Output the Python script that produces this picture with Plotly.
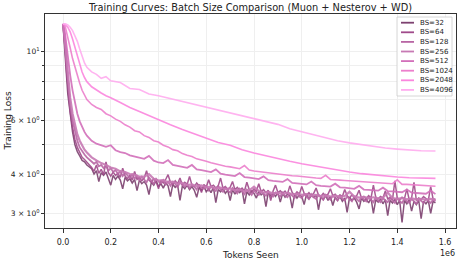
import plotly.graph_objects as go

# ---------------- data ----------------
BATCH_SIZES = [32, 64, 128, 256, 512, 1024, 2048, 4096]
COLORS = ["#7d4170", "#a04a8a", "#b866a4", "#c77ab4", "#d26fba", "#ec7fcc", "#fb86de", "#ffacef"]

# tokens seen (millions)
TOKENS_FINE = [0, 0.005, 0.01, 0.015, 0.02, 0.03, 0.04, 0.05, 0.06, 0.07, 0.08, 0.09, 0.10]
TOKENS = TOKENS_FINE + [round(0.12 + 0.02 * k, 2) for k in range(73)]
TOKENS_DENSE = TOKENS_FINE + [round(0.12 + 0.01 * k, 2) for k in range(145)]
TOKENS_SMOOTH = [0, 0.01, 0.02, 0.03, 0.04, 0.05, 0.06, 0.07, 0.08, 0.09, 0.10, 0.12, 0.14, 0.16,
                 0.18, 0.20, 0.24, 0.28, 0.32, 0.36, 0.40, 0.45, 0.50, 0.55, 0.60, 0.65, 0.70,
                 0.75, 0.80, 0.85, 0.90, 0.95, 1.00, 1.05, 1.10, 1.15, 1.20, 1.25, 1.30, 1.35,
                 1.40, 1.45, 1.50, 1.56]

LOSS_BS32 = [12.3, 11.0, 9.6, 8.3, 7.3, 6.2, 5.5, 5.0, 4.75, 4.6, 4.45, 4.4, 4.3,
             4.18, 4.02, 4.12, 3.80, 4.06, 3.98, 4.08, 3.90, 3.70, 3.98,
             3.86, 3.96, 3.84, 3.60, 3.92, 3.82, 3.88, 3.76, 3.86, 3.55,
             3.84, 3.74, 3.80, 3.70, 3.45, 3.78, 3.70, 3.82, 3.66, 3.74,
             3.62, 3.76, 3.68, 3.40, 3.72, 3.64, 3.70, 3.30, 3.68, 3.60,
             3.70, 3.58, 3.66, 3.56, 3.38, 3.64, 3.55, 3.68, 3.52, 3.60,
             3.50, 3.64, 3.25, 3.58, 3.52, 3.62, 3.48, 3.56, 3.30, 3.58,
             3.46, 3.56, 3.50, 3.58, 3.22, 3.52, 3.44, 3.54, 3.48, 3.36,
             3.54, 3.44, 3.50, 3.15, 3.52, 3.42, 3.48, 3.40, 3.50, 3.26,
             3.48, 3.38, 3.46, 3.42, 3.12, 3.46, 3.36, 3.44, 3.40, 3.20,
             3.46, 3.34, 3.42, 3.38, 3.44, 3.08, 3.40, 3.32, 3.42, 3.30,
             3.40, 3.18, 3.38, 3.30, 3.40, 3.28, 3.36, 3.02, 3.38, 3.30,
             3.36, 3.26, 3.10, 3.36, 3.28, 3.34, 3.24, 3.36, 3.00, 3.32,
             3.26, 3.34, 3.22, 3.32, 2.95, 3.30, 3.24, 3.34, 3.20, 3.30,
             2.80, 3.30, 3.22, 3.32, 3.05, 3.28, 3.20, 3.30, 2.88, 3.28,
             3.22, 3.30, 3.00, 3.28, 3.24]
LOSS_BS64 = [12.3, 11.2, 9.9, 8.6, 7.6, 6.4, 5.7, 5.2, 4.9, 4.7, 4.55, 4.48, 4.4,
             4.22, 4.10, 4.30, 4.04, 4.16, 4.00, 4.40, 4.06, 3.96, 4.08,
             3.98, 4.04, 3.92, 4.20, 3.96, 3.88, 3.98, 3.84, 4.10, 3.86,
             3.92, 3.82, 3.90, 4.12, 3.84, 3.78, 3.88, 3.80, 3.60, 3.84,
             3.76, 3.86, 4.00, 3.78, 3.72, 3.82, 3.74, 3.90, 3.70, 3.78,
             3.72, 3.95, 3.70, 3.66, 3.76, 3.68, 3.50, 3.72, 3.64, 3.85,
             3.66, 3.70, 3.62, 3.68, 3.90, 3.62, 3.66, 3.58, 3.64, 3.80,
             3.58, 3.64, 3.56, 3.62, 3.54, 3.78, 3.58, 3.52, 3.60, 3.54,
             3.74, 3.52, 3.58, 3.50, 3.56, 3.30, 3.54, 3.70, 3.50, 3.55,
             3.48, 3.54, 3.46, 3.68, 3.50, 3.44, 3.52, 3.46, 3.66, 3.48,
             3.44, 3.50, 3.42, 3.48, 3.62, 3.44, 3.40, 3.48, 3.42, 3.46,
             3.60, 3.42, 3.46, 3.38, 3.44, 3.40, 3.58, 3.42, 3.36, 3.44,
             3.38, 3.42, 3.56, 3.36, 3.40, 3.34, 3.42, 3.36, 3.70, 3.38,
             3.34, 3.40, 3.36, 3.54, 3.34, 3.38, 3.32, 3.82, 3.36, 3.32,
             3.38, 3.34, 3.60, 3.32, 3.36, 3.78, 3.30, 3.36, 3.32, 3.40,
             3.34, 3.30, 3.66, 3.34, 3.32]
LOSS_BS128 = [12.3, 11.4, 10.2, 9.0, 8.0, 6.7, 6.0, 5.5, 5.15, 4.9, 4.75, 4.65, 4.55,
              4.42, 4.34, 4.40, 4.26, 4.30, 4.20, 4.28, 4.12, 4.20, 4.08,
              4.14, 4.02, 4.10, 3.96, 4.06, 3.98, 3.90, 4.02, 3.88, 3.96,
              3.84, 3.94, 3.86, 3.78, 3.92, 3.82, 3.74, 3.88, 3.80, 3.76,
              3.84, 3.72, 3.80, 3.68, 3.78, 3.74, 3.64, 3.80, 3.70, 3.66,
              3.74, 3.62, 3.70, 3.66, 3.58, 3.72, 3.62, 3.60, 3.68, 3.56,
              3.66, 3.60, 3.54, 3.68, 3.58, 3.52, 3.64, 3.56, 3.50, 3.62,
              3.54, 3.48, 3.60, 3.52, 3.46, 3.58, 3.50, 3.44, 3.56, 3.48,
              3.44, 3.54, 3.46, 3.42, 3.52, 3.46, 3.40, 3.50, 3.44, 3.40,
              3.50, 3.42, 3.38, 3.48, 3.42, 3.36, 3.48, 3.40, 3.36, 3.46,
              3.40, 3.34, 3.46, 3.38, 3.34, 3.44, 3.38, 3.32, 3.44, 3.36,
              3.32, 3.42, 3.36, 3.30, 3.42, 3.34, 3.30, 3.40, 3.34, 3.28,
              3.40, 3.34, 3.28, 3.38, 3.32, 3.28, 3.38, 3.32, 3.26, 3.38,
              3.30, 3.26, 3.36, 3.30, 3.26, 3.36, 3.30, 3.24, 3.36, 3.28,
              3.24, 3.34, 3.28, 3.24, 3.34, 3.28, 3.22, 3.34, 3.28, 3.24,
              3.34, 3.28, 3.24, 3.32, 3.28]
LOSS_BS256 = [12.3, 11.6, 10.5, 9.4, 8.4, 7.1, 6.3, 5.8, 5.4, 5.15, 4.95, 4.82, 4.72,
              4.55, 4.45, 4.36, 4.30, 4.22, 4.18, 4.10, 4.08, 4.02, 4.00,
              3.94, 3.94, 4.02, 3.88, 3.83, 3.84, 3.78, 3.80, 3.74, 3.76,
              3.70, 3.72, 3.67, 3.69, 3.64, 3.66, 3.61, 3.63, 3.59, 3.61,
              3.56, 3.58, 3.54, 3.56, 3.66, 3.54, 3.50, 3.52, 3.48, 3.50,
              3.47, 3.49, 3.45, 3.47, 3.44, 3.46, 3.42, 3.44, 3.41, 3.43,
              3.40, 3.42, 3.39, 3.41, 3.52, 3.40, 3.37, 3.39, 3.36, 3.38,
              3.35, 3.37, 3.50, 3.36, 3.34, 3.36, 3.33, 3.35, 3.33, 3.34,
              3.32, 3.34, 3.33]
LOSS_BS512 = [12.3, 11.9, 11.2, 10.4, 9.6, 8.4, 7.5, 6.8, 6.3, 5.95, 5.7, 5.5, 5.35,
              5.15, 5.04, 4.97, 4.92, 4.98, 4.80, 4.73, 4.70, 4.62, 4.58,
              4.54, 4.50, 4.60, 4.44, 4.38, 4.36, 4.46, 4.30, 4.27, 4.24,
              4.21, 4.30, 4.16, 4.14, 4.10, 4.08, 4.16, 4.03, 4.00, 3.98,
              3.96, 4.05, 3.93, 3.91, 3.89, 3.87, 3.95, 3.84, 3.82, 3.80,
              3.79, 3.87, 3.76, 3.75, 3.73, 3.72, 3.80, 3.70, 3.68, 3.67,
              3.66, 3.74, 3.64, 3.63, 3.61, 3.60, 3.68, 3.58, 3.57, 3.56,
              3.55, 3.63, 3.54, 3.53, 3.52, 3.51, 3.58, 3.50, 3.49, 3.48,
              3.47, 3.55, 3.46]
LOSS_BS1024 = [12.3, 12.2, 12.0, 11.6, 11.2, 10.3, 9.5, 8.9, 8.4, 7.9, 7.5, 7.2, 7.0,
               6.75, 6.60, 6.50, 6.30, 6.20, 6.05, 5.95, 5.80, 5.70, 5.55,
               5.50, 5.35, 5.28, 5.15, 5.10, 4.98, 4.92, 4.82, 4.78, 4.68,
               4.62, 4.58, 4.50, 4.47, 4.42, 4.37, 4.33, 4.30, 4.26, 4.24,
               4.20, 4.18, 4.28, 4.14, 4.11, 4.09, 4.07, 4.06, 4.03, 4.02,
               4.00, 3.99, 3.97, 3.96, 3.94, 3.93, 3.91, 3.90, 3.89, 3.98,
               3.86, 3.86, 3.84, 3.83, 3.82, 3.81, 3.80, 3.79, 3.78, 3.77,
               3.76, 3.76, 3.75, 3.74, 3.85, 3.72, 3.72, 3.71, 3.70, 3.69,
               3.69, 3.68, 3.67]
LOSS_BS2048 = [12.3, 12.2, 12.0, 11.6, 11.0, 10.3, 9.6, 9.0, 8.6, 8.25, 8.0, 7.7, 7.5, 7.35,
               7.2, 7.1, 6.85, 6.6, 6.4, 6.2, 6.0, 5.8, 5.6, 5.42, 5.25, 5.08, 4.98,
               4.82, 4.7, 4.6, 4.5, 4.42, 4.34, 4.27, 4.2, 4.14, 4.08, 4.03, 3.99, 3.96,
               3.93, 3.91, 3.90, 3.89]
LOSS_BS4096 = [12.3, 12.3, 12.2, 12.0, 11.7, 11.3, 10.8, 10.2, 9.7, 9.2, 8.9, 8.6, 8.45, 8.2,
               8.3, 8.05, 7.95, 7.6, 7.55, 7.3, 7.2, 7.05, 6.9, 6.75, 6.6, 6.48, 6.35,
               6.2, 6.08, 5.95, 5.82, 5.63, 5.5, 5.38, 5.25, 5.15, 5.07, 5.0, 4.93, 4.88,
               4.84, 4.80, 4.78, 4.77]

SERIES = [
    (TOKENS_DENSE, LOSS_BS32), (TOKENS_DENSE, LOSS_BS64), (TOKENS_DENSE, LOSS_BS128),
    (TOKENS, LOSS_BS256), (TOKENS, LOSS_BS512), (TOKENS, LOSS_BS1024),
    (TOKENS_SMOOTH, LOSS_BS2048), (TOKENS_SMOOTH, LOSS_BS4096),
]
WIDTHS = [1.5, 1.5, 1.8, 2.2, 1.8, 1.6, 1.6, 1.6]
for xs, ys in SERIES:
    assert len(xs) == len(ys), (len(xs), len(ys))

X_TICKS = [0.0, 0.2, 0.4, 0.6, 0.8, 1.0, 1.2, 1.4, 1.6]
Y_TICKS = [3, 4, 6, 10]
Y_TICK_TEXT = ["3 × 10<sup>0</sup>", "4 × 10<sup>0</sup>", "6 × 10<sup>0</sup>", "10<sup>1</sup>"]
Y_MINOR = [5, 7, 8, 9]

# ---------------- figure ----------------
W, H = 459, 263
L, R, T, B = 45, 456, 14, 228   # plot area in px
FONT = "DejaVu Sans"

fig = go.Figure()
for (xs, ys), bs, col, lw in zip(SERIES, BATCH_SIZES, COLORS, WIDTHS):
    fig.add_trace(go.Scatter(
        x=[v * 1e6 for v in xs], y=ys, mode="lines", name=f"BS={bs}",
        line=dict(color=col, width=lw), opacity=0.9, showlegend=False,
    ))

def px_x(p):
    return (p - L) / (R - L)

def px_y(p):
    return (B - p) / (B - T)

shapes = []
annotations = []
shapes.append(dict(type="rect", xref="paper", yref="paper",
                   x0=px_x(397), x1=px_x(452), y0=px_y(96), y1=px_y(17),
                   fillcolor="rgba(255,255,255,0.85)", line=dict(color="#cccccc", width=0.8)))
for i, (bs, col) in enumerate(zip(BATCH_SIZES, COLORS)):
    yy = 22.7 + 9.6 * i
    shapes.append(dict(type="line", xref="paper", yref="paper",
                       x0=px_x(401), x1=px_x(414), y0=px_y(yy), y1=px_y(yy),
                       line=dict(color=col, width=1.8)))
    annotations.append(dict(xref="paper", yref="paper", x=px_x(418), y=px_y(yy),
                            text=f"BS={bs}", showarrow=False, xanchor="left", yanchor="middle",
                            font=dict(family=FONT, size=7, color="#222222")))

annotations += [
    dict(xref="paper", yref="paper", x=0.5, y=px_y(255.5), text="Tokens Seen", showarrow=False,
         xanchor="center", yanchor="middle", font=dict(family=FONT, size=9, color="#222")),
    dict(xref="paper", yref="paper", x=px_x(7.5), y=px_y(121), text="Training Loss", showarrow=False,
         textangle=-90, xanchor="center", yanchor="middle", font=dict(family=FONT, size=9, color="#222")),
    dict(xref="paper", yref="paper", x=px_x(457), y=px_y(253.5), text="1e6", showarrow=False,
         xanchor="right", yanchor="middle", font=dict(family=FONT, size=8, color="#222")),
]

fig.update_layout(
    width=W, height=H,
    margin=dict(l=L, r=W - R, t=T, b=H - B, pad=0),
    paper_bgcolor="white", plot_bgcolor="white",
    title=dict(text="Training Curves: Batch Size Comparison (Muon + Nesterov + WD)",
               x=0.5, xref="paper", xanchor="center", y=1 - 7.5 / H, yanchor="middle",
               font=dict(family=FONT, size=9.8, color="#222")),
    shapes=shapes, annotations=annotations, showlegend=False,
    font=dict(family=FONT, size=8, color="#222"),
)
fig.update_xaxes(
    range=[-0.0754e6, 1.646e6], tickvals=[v * 1e6 for v in X_TICKS],
    ticktext=[f"{v:.1f}" for v in X_TICKS], ticks="outside", ticklen=3.5, tickcolor="#333",
    ticklabelstandoff=3,
    showline=True, linecolor="#333", linewidth=1, mirror=True,
    showgrid=True, gridcolor="#efefef", gridwidth=0.8, zeroline=False,
    tickfont=dict(family=FONT, size=8, color="#222"),
)
fig.update_yaxes(
    type="log", range=[0.4295, 1.122], tickvals=Y_TICKS, ticktext=Y_TICK_TEXT,
    ticks="outside", ticklen=3, tickcolor="#333",
    minor=dict(tickvals=Y_MINOR, ticks="outside", ticklen=2, tickcolor="#333",
               showgrid=True, gridcolor="#efefef", gridwidth=0.8),
    showline=True, linecolor="#333", linewidth=1, mirror=True,
    showgrid=True, gridcolor="#efefef", gridwidth=0.8, zeroline=False,
    tickfont=dict(family=FONT, size=7.5, color="#222"),
)

fig.write_html("out.html", post_script="document.body.style.margin='0';",
               config={"displayModeBar": False})
